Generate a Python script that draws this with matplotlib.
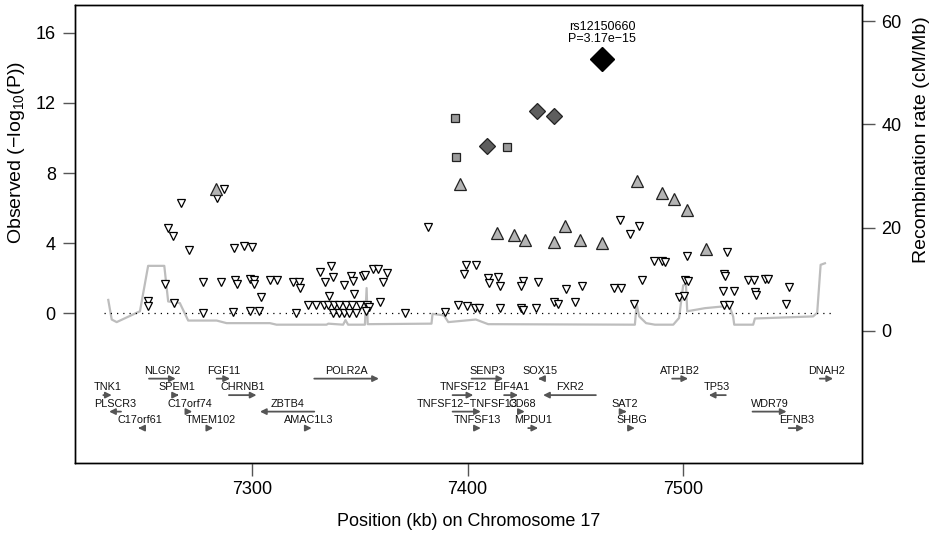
import numpy as np
import matplotlib
matplotlib.use("Agg")
import matplotlib.pyplot as plt

plt.rcParams['font.family'] = ['Liberation Sans', 'DejaVu Sans']
plt.rcParams['mathtext.fontset'] = 'custom'
plt.rcParams['mathtext.rm'] = 'Liberation Sans'

# ---- SNP association results (position in kb, -log10 P) ----
lead_pos = [7462.4]
lead_logp = [14.49]
lead_name = "rs12150660"
lead_p = "P=3.17e\u221215"

hi_pos = [7409.1, 7432.0, 7440.1]          # dark grey diamonds
hi_logp = [9.53, 11.53, 11.28]

sq_pos = [7393.9, 7394.5, 7418.2]           # grey squares
sq_logp = [11.13, 8.89, 9.48]

up_pos = [7283.0, 7396.4, 7413.7, 7421.3, 7426.5, 7440.1, 7445.0, 7451.9,
          7462.4, 7478.5, 7490.3, 7495.7, 7501.6, 7510.4]
up_logp = [7.07, 7.37, 4.61, 4.46, 4.18, 4.06, 4.99, 4.18,
           4.01, 7.52, 6.88, 6.51, 5.87, 3.66]

dn_pos = [7287.0, 7283.6, 7267.1, 7261.0, 7263.3, 7270.6, 7291.4, 7296.0, 7299.7,
          7259.4, 7251.5, 7251.7, 7263.5, 7277.1, 7285.3, 7292.1, 7292.9, 7298.9,
          7300.9, 7300.9, 7304.0, 7308.2, 7311.5, 7318.9, 7321.7, 7322.3, 7277.1,
          7290.9, 7298.8, 7303.2, 7320.4, 7331.6, 7336.4, 7337.6, 7333.6, 7335.7,
          7342.6, 7345.8, 7346.9, 7351.2, 7352.3, 7347.1, 7355.9, 7358.2,
          7326.0, 7329.4, 7333.4, 7335.4, 7337.9, 7340.4, 7343.3, 7346.1, 7350.0,
          7353.4, 7354.0,
          7337.6, 7340.2, 7342.6, 7345.0, 7348.4, 7352.6,
          7381.7, 7470.6, 7479.6, 7475.4, 7362.5, 7360.6, 7359.4, 7370.9, 7389.4,
          7399.3, 7403.8, 7398.2, 7395.3, 7399.8, 7403.3, 7405.3, 7409.5, 7410.0,
          7414.3, 7415.1, 7425.6, 7424.7, 7432.7, 7414.8, 7424.8, 7425.8, 7431.6,
          7440.1, 7441.7, 7445.7, 7452.9, 7449.9, 7467.7, 7471.0, 7480.7, 7477.3,
          7486.5, 7490.0, 7491.5,
          7501.6, 7520.3, 7500.9, 7502.3, 7498.1, 7500.5, 7519.1, 7519.3, 7518.3,
          7523.7, 7529.9, 7532.9, 7538.0, 7539.6, 7533.4, 7533.7, 7549.2, 7547.5,
          7519.0, 7521.1]
dn_logp = [7.12, 6.59, 6.30, 4.88, 4.42, 3.59, 3.74, 3.85, 3.80,
           1.65, 0.72, 0.40, 0.57, 1.80, 1.80, 1.91, 1.67, 1.94,
           1.91, 1.67, 0.93, 1.90, 1.90, 1.78, 1.78, 1.42, 0.03,
           0.09, 0.15, 0.15, 0.02, 2.35, 2.71, 2.05, 1.80, 0.99,
           1.60, 2.11, 1.82, 2.16, 2.20, 1.10, 2.52, 2.52,
           0.45, 0.45, 0.45, 0.45, 0.45, 0.45, 0.45, 0.45, 0.45,
           0.45, 0.34,
           0.03, 0.03, 0.03, 0.03, 0.03, 0.12,
           4.94, 5.32, 4.99, 4.54, 2.28, 1.80, 0.66, 0.02, 0.06,
           2.77, 2.77, 2.22, 0.47, 0.43, 0.28, 0.32, 2.01, 1.71,
           2.09, 1.56, 1.84, 1.57, 1.80, 0.28, 0.32, 0.19, 0.32,
           0.66, 0.51, 1.40, 1.56, 0.63, 1.42, 1.46, 1.91, 0.53,
           2.98, 2.98, 2.91,
           3.28, 3.49, 1.91, 1.84, 0.93, 0.97, 2.22, 2.15, 1.25,
           1.27, 1.90, 1.88, 1.97, 1.97, 1.21, 1.06, 1.52, 0.55,
           0.45, 0.45]

# ---- recombination rate (cM/Mb) ----
rec_pos = [7233.2, 7234.8, 7237.1, 7247.9, 7251.7, 7259.2, 7261.0, 7266.4, 7270.3,
           7283.5, 7288.1, 7308.2, 7311.3, 7334.5, 7335.3, 7342.2, 7343.3, 7344.5,
           7352.3, 7353.1, 7353.6, 7383.2, 7383.7, 7389.0, 7391.0, 7403.8, 7409.5,
           7477.6, 7478.4, 7479.6, 7482.8, 7486.9, 7495.4, 7498.1, 7500.0, 7501.3,
           7501.9, 7510.1, 7520.1, 7521.2, 7523.2, 7523.7, 7532.5, 7533.3, 7560.3,
           7562.2, 7563.8, 7565.8]
rec_rate = [6.0, 2.2, 1.7, 3.8, 12.6, 12.6, 5.7, 5.4, 2.0,
            2.0, 1.5, 1.5, 1.2, 1.2, 1.4, 1.2, 2.1, 1.2,
            1.2, 8.3, 1.3, 1.4, 3.3, 3.0, 1.7, 2.2, 1.3,
            1.2, 5.2, 2.8, 1.5, 1.2, 1.2, 2.5, 8.8, 9.0,
            3.8, 4.4, 4.8, 5.1, 2.8, 1.2, 1.2, 2.4, 2.8,
            3.5, 12.8, 13.1]

# ---- genes ----
gene_name = ["NLGN2", "FGF11", "POLR2A", "SENP3", "SOX15", "ATP1B2", "DNAH2",
             "TNK1", "SPEM1", "CHRNB1", "TNFSF12", "EIF4A1", "FXR2", "TP53",
             "PLSCR3", "C17orf74", "ZBTB4", "TNFSF12\u2212TNFSF13", "CD68", "SAT2", "WDR79",
             "C17orf61", "TMEM102", "AMAC1L3", "TNFSF13", "MPDU1", "SHBG", "EFNB3"]
gene_start = [7252.1, 7283.5, 7328.8, 7401.8, 7432.7, 7494.9, 7563.4,
              7230.9, 7264.3, 7289.2, 7393.0, 7416.9, 7435.0, 7511.9,
              7233.6, 7269.6, 7303.6, 7393.0, 7424.5, 7472.2, 7532.2,
              7247.1, 7279.6, 7325.2, 7402.9, 7428.1, 7474.5, 7549.0]
gene_end = [7264.5, 7289.7, 7358.8, 7416.5, 7434.3, 7502.3, 7569.6,
            7234.8, 7266.0, 7302.0, 7402.6, 7423.4, 7459.5, 7519.8,
            7239.1, 7272.2, 7328.8, 7406.1, 7426.5, 7473.7, 7548.0,
            7248.7, 7281.9, 7327.6, 7406.1, 7432.7, 7477.6, 7556.0]
gene_strand = ["+", "+", "+", "+", "-", "+", "+",
               "+", "+", "+", "+", "+", "-", "-",
               "-", "+", "-", "+", "+", "+", "+",
               "-", "+", "+", "+", "+", "+", "+"]
gene_row = [0, 0, 0, 0, 0, 0, 0,
            1, 1, 1, 1, 1, 1, 1,
            2, 2, 2, 2, 2, 2, 2,
            3, 3, 3, 3, 3, 3, 3]

W, H = 934, 534
fig = plt.figure(figsize=(W / 100, H / 100), dpi=100)
ax = fig.add_axes([75.3 / W, 1 - 463 / H, (862 - 75.3) / W, (463 - 4.7) / H])
ax2 = ax.twinx()
ax.set_zorder(ax2.get_zorder() + 1)
ax.patch.set_visible(False)

# recombination on the right axis
ax2.plot(rec_pos, rec_rate, color="#bdbdbd", lw=1.6, zorder=1)
ax2.set_ylim(-25.6, 63.2)
ax2.set_yticks([0, 20, 40, 60])

# significance baseline
ax.plot([7231, 7569.5], [0, 0], color="black", lw=0.9, ls=(0, (1, 4)), zorder=2)

ax.plot(dn_pos, dn_logp, "v", ms=5.2, mfc="white", mec="black", mew=0.9, ls="none", zorder=3)
ax.plot(up_pos, up_logp, "^", ms=8, mfc="#b4b4b4", mec="#222222", mew=0.9, ls="none", zorder=4)
ax.plot(sq_pos, sq_logp, "s", ms=6, mfc="#9a9a9a", mec="#222222", mew=0.9, ls="none", zorder=4)
ax.plot(hi_pos, hi_logp, "D", ms=8, mfc="#5e5e5e", mec="#222222", mew=0.9, ls="none", zorder=5)
ax.plot(lead_pos, lead_logp, "D", ms=12, mfc="black", mec="black", ls="none", zorder=6)
ax.text(lead_pos[0], lead_logp[0] + 0.8, lead_name + "\n" + lead_p, ha="center", va="bottom",
        fontsize=9, linespacing=1.05)

# genes
row_y0, row_dy = -3.72, 0.94
for name, s, e, strand, r in zip(gene_name, gene_start, gene_end, gene_strand, gene_row):
    y = row_y0 - r * row_dy
    a, b = (s, e) if strand == "+" else (e, s)
    ax.annotate("", xy=(b, y), xytext=(a, y),
                arrowprops=dict(arrowstyle="-|>,head_length=0.5,head_width=0.25", color="#555555",
                                lw=1.3, shrinkA=0, shrinkB=0, mutation_scale=7))
    ax.text((s + e) / 2, y + 0.17, name, ha="center", va="bottom", fontsize=7.8, color="#111111")

ax.set_xlim(7217.9, 7583.0)
ax.set_ylim(-8.53, 17.6)
ax.set_xticks([7300, 7400, 7500])
ax.set_yticks([0, 4, 8, 12, 16])

for a_ in (ax, ax2):
    a_.tick_params(direction="out", length=9, width=1, color="#555555", labelsize=13, pad=5)
    for sp in a_.spines.values():
        sp.set_linewidth(1)
ax.tick_params(axis="x", pad=4)

fig.text(17 / W, 1 - 152 / H, "Observed (\u2212log$_{10}$(P))", rotation=90, ha="center", va="center", fontsize=14)
fig.text(921 / W, 1 - 140 / H, "Recombination rate (cM/Mb)", rotation=90, ha="center", va="center", fontsize=14)
fig.text((75.3 + 862) / 2 / W, 1 - 521 / H, "Position (kb) on Chromosome 17", ha="center", va="center", fontsize=13)

fig.savefig("out.png", dpi=100)
